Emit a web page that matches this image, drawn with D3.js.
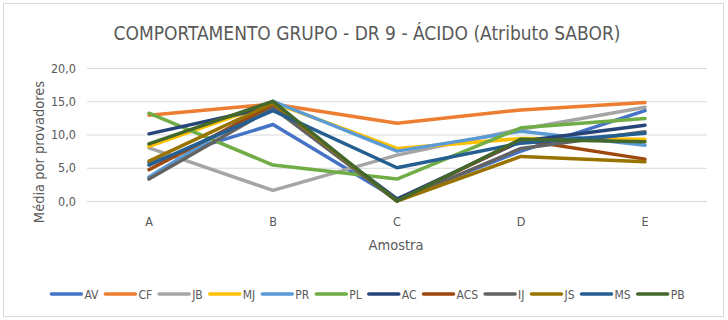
<!DOCTYPE html>
<html>
<head>
<meta charset="utf-8">
<script src="https://cdn.jsdelivr.net/npm/d3@7/dist/d3.min.js"></script>
<style>
  html, body { margin: 0; padding: 0; background: #fff; }
  svg { display: block; }
  text { font-family: "DejaVu Sans Condensed", "Open Sans", sans-serif; fill: #595959; }
</style>
</head>
<body>
<svg id="chart" width="728" height="320"></svg>
<script>
// Sample categories on the horizontal axis
const samples = ["A", "B", "C", "D", "E"];

// Mean score per panelist, one array per panelist
const AV  = [5.8, 11.5, 0.3, 7.5, 13.6];
const CF  = [12.9, 14.6, 11.7, 13.7, 14.8];
const JB  = [8.0, 1.6, 6.9, 10.8, 14.1];
const MJ  = [8.2, 14.8, 7.9, 9.4, 9.3];
const PR  = [3.6, 15.0, 7.5, 10.5, 8.4];
const PL  = [13.2, 5.4, 3.3, 11.0, 12.4];
const AC  = [10.1, 14.2, 0.3, 9.0, 11.4];
const ACS = [4.7, 14.4, 0.0, 9.2, 6.3];
const IJ  = [3.3, 14.0, 0.0, 7.9, 10.4];
const JS  = [6.0, 14.7, 0.0, 6.7, 5.9];
const MS  = [5.4, 13.6, 5.0, 8.7, 10.2];
const PB  = [8.6, 15.0, 0.0, 9.3, 8.9];

const seriesNames = ["AV", "CF", "JB", "MJ", "PR", "PL", "AC", "ACS", "IJ", "JS", "MS", "PB"];
const seriesValues = [AV, CF, JB, MJ, PR, PL, AC, ACS, IJ, JS, MS, PB];
const seriesColors = ["#4472C4", "#ED7D31", "#A5A5A5", "#FFC000", "#5B9BD5", "#70AD47",
                      "#264478", "#9E480E", "#636363", "#997300", "#255E91", "#43682B"];

// Value axis ticks
const yTicks = [0, 5, 10, 15, 20];

const title = "COMPORTAMENTO GRUPO - DR 9 - ÁCIDO (Atributo SABOR)";
const yTitle = "Média por provadores";
const xTitle = "Amostra";

const svg = d3.select("#chart");
const W = 728, H = 320;

// Chart frame
svg.append("rect")
  .attr("x", 3.5).attr("y", 3.5)
  .attr("width", W - 8).attr("height", H - 7)
  .attr("fill", "#fff").attr("stroke", "#D9D9D9").attr("stroke-width", 1);

const plot = { left: 87, right: 707, top: 68, bottom: 201 };

const x = d3.scaleBand().domain(samples).range([plot.left, plot.right]);
const y = d3.scaleLinear().domain([0, 20]).range([plot.bottom, plot.top]);
const fmt = v => d3.format(".1f")(v).replace(".", ",");

// Horizontal gridlines
svg.append("g")
  .attr("transform", `translate(${plot.left},0)`)
  .call(d3.axisLeft(y).tickValues(yTicks).tickSize(-(plot.right - plot.left)).tickFormat(""))
  .call(g => g.select(".domain").remove())
  .call(g => g.selectAll("line").attr("stroke", "#D9D9D9").attr("stroke-width", 1));

// Value axis labels
svg.append("g")
  .attr("transform", `translate(${plot.left},0)`)
  .call(d3.axisLeft(y).tickValues(yTicks).tickSize(0).tickPadding(11).tickFormat(fmt))
  .call(g => g.select(".domain").remove())
  .call(g => g.selectAll("text").attr("font-size", 12.5).attr("fill", "#595959")
    .style("font-family", "'DejaVu Sans Condensed', sans-serif"));

// Category axis labels
svg.append("g")
  .attr("transform", `translate(0,${plot.bottom})`)
  .call(d3.axisBottom(x).tickSize(0).tickPadding(16))
  .call(g => g.select(".domain").remove())
  .call(g => g.selectAll("text").attr("font-size", 12.5).attr("fill", "#595959")
    .style("font-family", "'DejaVu Sans Condensed', sans-serif"));

// Series lines
const line = d3.line()
  .x((d, i) => x(samples[i]) + x.bandwidth() / 2)
  .y(d => y(d));

svg.append("g").selectAll("path")
  .data(seriesValues)
  .join("path")
  .attr("d", d => line(d))
  .attr("fill", "none")
  .attr("stroke", (d, i) => seriesColors[i])
  .attr("stroke-width", 3.5)
  .attr("stroke-linejoin", "round")
  .attr("stroke-linecap", "round");

// Titles
svg.append("text")
  .attr("x", 367).attr("y", 40)
  .attr("text-anchor", "middle")
  .attr("font-size", 19)
  .attr("fill", "#595959")
  .text(title);

svg.append("text")
  .attr("transform", "translate(44,152) rotate(-90)")
  .attr("text-anchor", "middle")
  .attr("font-size", 14.5)
  .text(yTitle);

svg.append("text")
  .attr("x", 396).attr("y", 250)
  .attr("text-anchor", "middle")
  .attr("font-size", 14.5)
  .text(xTitle);

// Legend
const legend = svg.append("g");
let cursor = 0;
seriesNames.forEach((name, i) => {
  const item = legend.append("g").attr("transform", `translate(${cursor},0)`);
  item.append("line")
    .attr("x1", 0).attr("x2", 30).attr("y1", 0).attr("y2", 0)
    .attr("stroke", seriesColors[i]).attr("stroke-width", 3.5).attr("stroke-linecap", "round");
  const t = item.append("text")
    .attr("x", 33).attr("y", 4.5)
    .attr("font-size", 12)
    .text(name);
  cursor += 33 + t.node().getComputedTextLength() + 7;
});
const legendWidth = cursor - 7;
legend.attr("transform", `translate(${368 - legendWidth / 2},294)`);
</script>
</body>
</html>
